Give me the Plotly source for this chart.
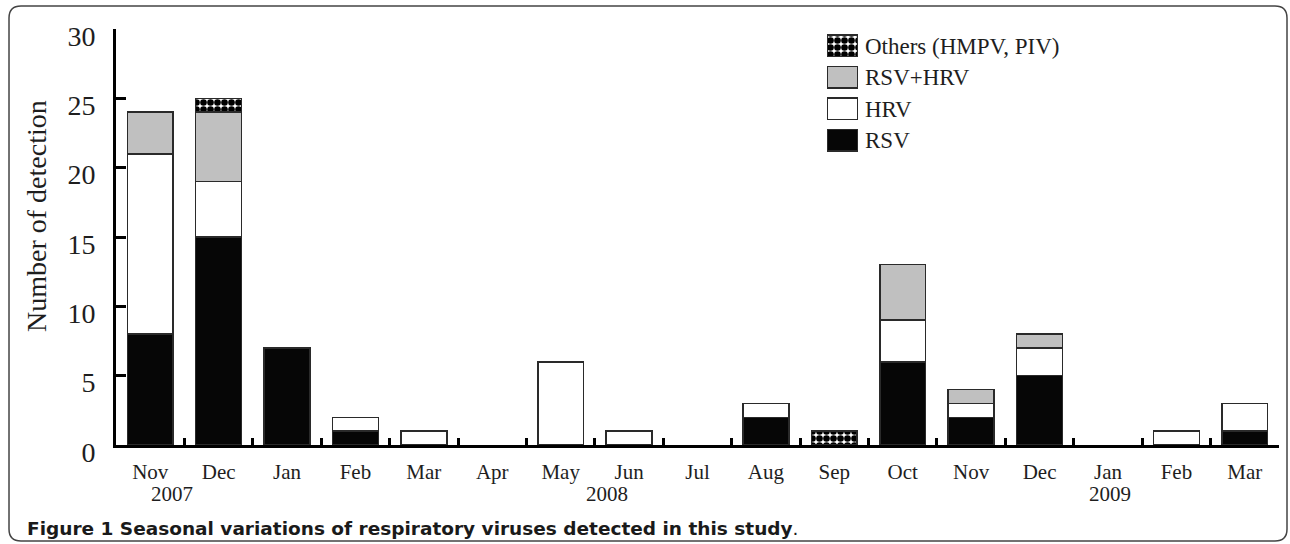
import plotly.graph_objects as go

# ---- data ----
periods = ["2007-11", "2007-12", "2008-01", "2008-02", "2008-03", "2008-04", "2008-05",
           "2008-06", "2008-07", "2008-08", "2008-09", "2008-10", "2008-11", "2008-12",
           "2009-01", "2009-02", "2009-03"]
month_labels = ["Nov", "Dec", "Jan", "Feb", "Mar", "Apr", "May", "Jun", "Jul", "Aug",
                "Sep", "Oct", "Nov", "Dec", "Jan", "Feb", "Mar"]
rsv = [8, 15, 7, 1, 0, 0, 0, 0, 0, 2, 0, 6, 2, 5, 0, 0, 1]
hrv = [13, 4, 0, 1, 1, 0, 6, 1, 0, 1, 0, 3, 1, 2, 0, 1, 2]
rsv_hrv = [3, 5, 0, 0, 0, 0, 0, 0, 0, 0, 0, 4, 1, 1, 0, 0, 0]
others = [0, 1, 0, 0, 0, 0, 0, 0, 0, 0, 1, 0, 0, 0, 0, 0, 0]
series_names = ["RSV", "HRV", "RSV+HRV", "Others (HMPV, PIV)"]
year_labels = ["2007", "2008", "2009"]
year_pos = [0.32, 6.67, 14.03]
y_ticks = [0, 5, 10, 15, 20, 25, 30]

# ---- geometry ----
W_FIG, H_FIG = 1290, 544
L, R, T, B = 116, 11, 29, 99
PW, PH = W_FIG - L - R, H_FIG - T - B


def px(x, y):
    return (x - L) / PW, 1 - (y - T) / PH


SERIF = "Liberation Serif, Times New Roman, serif"
TXT = "#1e1e1e"
OUTLINE = dict(color="#2a2a2a", width=1.5)

styles = {
    "RSV": dict(color="#060606"),
    "HRV": dict(color="#ffffff"),
    "RSV+HRV": dict(color="#c0c0c0"),
    "Others (HMPV, PIV)": dict(color="#ffffff",
                               pattern=dict(shape=".", fgcolor="#000000", bgcolor="#ffffff",
                                            size=7, solidity=0.7, fillmode="replace")),
}
values = {"RSV": rsv, "HRV": hrv, "RSV+HRV": rsv_hrv, "Others (HMPV, PIV)": others}

fig = go.Figure()
for name in series_names:
    fig.add_trace(go.Bar(
        x=periods, y=[v if v else None for v in values[name]], name=name, showlegend=False,
        marker=dict(line=OUTLINE, **styles[name]),
        xaxis="x", yaxis="y", hoverinfo="x+y+name",
    ))

# inset "legend" made of swatch bars
for name in series_names:
    fig.add_trace(go.Bar(
        x=[1], y=[name], orientation="h", showlegend=False,
        marker=dict(line=OUTLINE, **styles[name]),
        xaxis="x2", yaxis="y2", hoverinfo="skip",
    ))

lx0, ly0 = px(827, 30)
lx1, ly1 = px(858, 156)

fig.update_layout(
    width=W_FIG, height=H_FIG,
    margin=dict(l=L, r=R, t=T, b=B, autoexpand=False),
    paper_bgcolor="white", plot_bgcolor="white",
    barmode="stack", bargap=0.33,
    font=dict(family=SERIF, color=TXT),
    xaxis=dict(
        type="category", categoryorder="array", categoryarray=periods,
        tickmode="array", tickvals=periods, ticktext=month_labels,
        tickson="boundaries", ticks="inside", ticklen=7, tickwidth=2.5, tickcolor="black",
        showline=True, linewidth=3, linecolor="black", showgrid=False, zeroline=False,
        tickfont=dict(family=SERIF, size=21, color=TXT), ticklabelstandoff=6,
        range=[-0.5, 16.5], domain=[0, 1], automargin=False,
    ),
    yaxis=dict(
        range=[0, 30], tickvals=y_ticks, ticks="inside", ticklen=10, tickwidth=2.5,
        tickcolor="black", showline=True, linewidth=3, linecolor="black",
        showgrid=False, zeroline=False, automargin=False,
        tickfont=dict(family=SERIF, size=28, color=TXT),
        ticklabelstandoff=12, ticklabelshift=7,
    ),
    xaxis2=dict(domain=[lx0, lx1], range=[0, 1], anchor="y2", visible=False,
                fixedrange=True, automargin=False),
    yaxis2=dict(domain=[ly1, ly0], anchor="x2", type="category",
                categoryorder="array", categoryarray=series_names,
                side="right", showline=False, ticks="", showgrid=False, zeroline=False,
                tickfont=dict(family=SERIF, size=23, color=TXT), automargin=False,
                ticklabelstandoff=6, fixedrange=True),
)

# y-axis title
tx, ty = px(36, 216)
fig.add_annotation(text="Number of detection", textangle=-90, xref="paper", yref="paper",
                   x=tx, y=ty, showarrow=False, xanchor="center", yanchor="middle",
                   font=dict(family=SERIF, size=28, color=TXT))

# year labels under the month ticks
_, yy = px(0, 494)
for lab, pos in zip(year_labels, year_pos):
    fig.add_annotation(text=lab, xref="x", yref="paper", x=pos, y=yy, showarrow=False,
                       xanchor="center", yanchor="middle",
                       font=dict(family=SERIF, size=21, color=TXT))

# caption
cx, cy = px(25, 528)
fig.add_annotation(
    text="<b>Figure 1 Seasonal variations of respiratory viruses detected in this study</b>.",
    xref="paper", yref="paper", x=cx, y=cy, xanchor="left", yanchor="middle",
    showarrow=False, font=dict(family="DejaVu Sans, sans-serif", size=18.5, color="#1a1a1a"))

# rounded frame
x0, y0, x1, y1, r = 9, 6, 1287, 541, 12
pts = {
    "a": px(x0 + r, y0), "b": px(x1 - r, y0), "c": px(x1, y0), "d": px(x1, y0 + r),
    "e": px(x1, y1 - r), "f": px(x1, y1), "g": px(x1 - r, y1), "h": px(x0 + r, y1),
    "i": px(x0, y1), "j": px(x0, y1 - r), "k": px(x0, y0 + r), "l": px(x0, y0),
}
P = lambda k: f"{pts[k][0]:.5f},{pts[k][1]:.5f}"
path = (f"M {P('a')} L {P('b')} Q {P('c')} {P('d')} L {P('e')} Q {P('f')} {P('g')} "
        f"L {P('h')} Q {P('i')} {P('j')} L {P('k')} Q {P('l')} {P('a')} Z")
fig.add_shape(type="path", path=path, xref="paper", yref="paper",
              line=dict(color="#444444", width=1.5), fillcolor="rgba(0,0,0,0)", layer="below")

fig.write_html("out.html", config={"displayModeBar": False},
               post_script="document.body.style.margin='0px';")
